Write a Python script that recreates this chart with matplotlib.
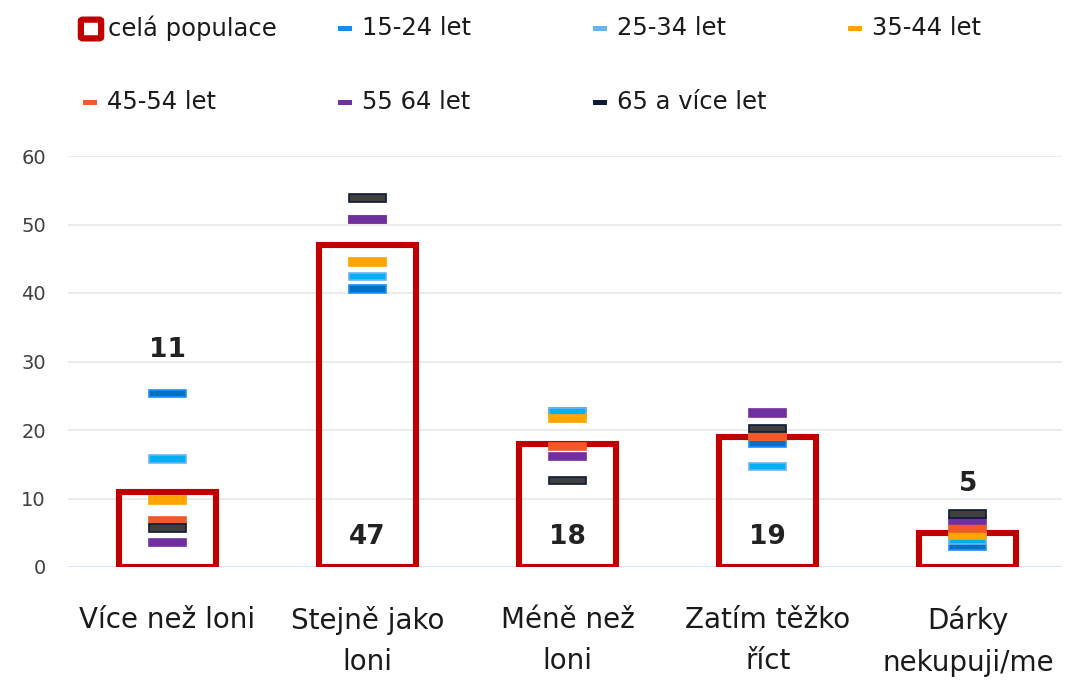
import numpy as np
import matplotlib.pyplot as plt
from matplotlib.patches import Rectangle, FancyBboxPatch

# data
categories = ['Více než loni', 'Stejně jako\nloni', 'Méně než\nloni',
              'Zatím těžko\nříct', 'Dárky\nnekupuji/me']
cela_populace = [11, 47, 18, 19, 5]

group_names = ['15-24 let', '25-34 let', '35-44 let', '45-54 let', '55 64 let', '65 a více let']
g15_24 = [25.3, 40.6, 22.6, 18.1, 3.0]
g25_34 = [15.8, 42.4, 22.7, 14.7, 3.9]
g35_44 = [9.8, 44.5, 21.7, 19.1, 4.6]
g45_54 = [6.7, 50.7, 17.6, 19.1, 5.6]
g55_64 = [3.6, 50.7, 16.1, 22.5, 6.8]
g65 = [5.7, 53.9, 12.6, 20.2, 7.7]
groups = [g15_24, g25_34, g35_44, g45_54, g55_64, g65]

fills = ['#0070C0', '#00B0F0', '#FFA500', '#F05A28', '#7030A0', '#404040']
edges = ['#1E90FF', '#6CB4F5', '#FFA500', '#F05A28', '#7030A0', '#0C1A33']
legend_cols = ['#1E88E5', '#64B5F6', '#FFA500', '#F05A28', '#7030A0', '#0C1A33']

W, H = 1066, 681
fig = plt.figure(figsize=(W / 100, H / 100), dpi=100)
ax = fig.add_axes([68 / W, (H - 567) / H, (1062 - 68) / W, (567 - 156) / H])

x = np.arange(len(categories))
ax.bar(x, cela_populace, width=0.485, fill=False, edgecolor='#C00000', linewidth=4.4, zorder=2)

for vals, fc, ec in zip(groups, fills, edges):
    v = np.array(vals)
    ax.bar(x, 1.1, bottom=v - 0.55, width=0.185, color=fc, edgecolor=ec, linewidth=1.2, zorder=3)

# value labels: above for first and last, at the base for the rest
label_y = [31.7, 4.4, 4.4, 4.4, 12.1]
for xi, val, ly in zip(x, cela_populace, label_y):
    ax.text(xi, ly, str(val), ha='center', va='center', fontsize=19,
            fontweight='bold', color='#222222', zorder=4)

ax.set_xlim(-0.495, 4.47)
ax.set_ylim(0, 60)
ax.set_yticks(range(0, 61, 10))
ax.set_xticks(x)
ax.set_xticklabels(categories, fontsize=20, color='#1a1a1a', linespacing=1.6)
ax.tick_params(axis='x', length=0, pad=28)
ax.tick_params(axis='y', length=0, labelsize=14, labelcolor='#404040', pad=16)
ax.grid(axis='y', color='#E8E8E8', linewidth=1.2, zorder=0)
ax.set_axisbelow(True)
for s in ax.spines.values():
    s.set_visible(False)
ax.axhline(0, color='#D9E3F5', linewidth=2, zorder=1)

# legend, built by hand in pixel positions
def fx(px):
    return px / W

def fy(py):
    return 1 - py / H

fig.add_artist(FancyBboxPatch((fx(83), fy(37)), fx(16), 16 / H,
                              boxstyle='round,pad=0.002', facecolor='white',
                              edgecolor='#C00000', linewidth=4.5, transform=fig.transFigure))
fig.text(fx(108), fy(28), 'celá populace', fontsize=17.5, va='center', color='#1a1a1a')

pos = [(338, 28), (593, 28), (848, 28), (83, 102), (338, 102), (593, 102)]
for name, col, (px, py) in zip(group_names, legend_cols, pos):
    fig.add_artist(Rectangle((fx(px), fy(py + 2.5)), fx(14), 5 / H,
                             facecolor=col, edgecolor='none', transform=fig.transFigure))
    fig.text(fx(px + 24), fy(py), name, fontsize=17.5, va='center', color='#1a1a1a')

fig.savefig('out.png', dpi=100, facecolor='white')
